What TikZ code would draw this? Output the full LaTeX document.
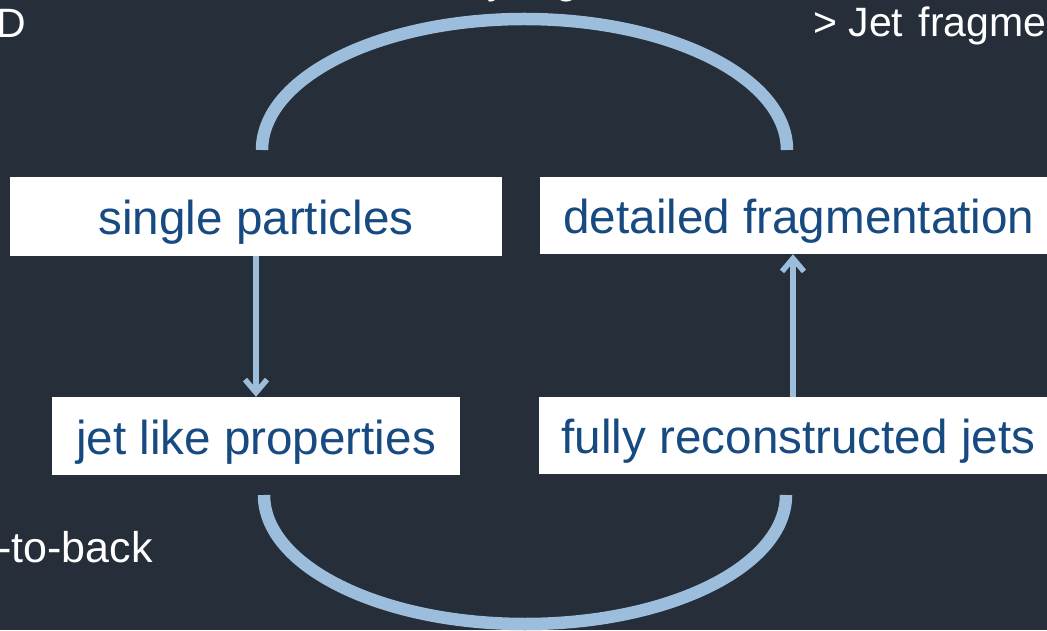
\documentclass[tikz,border=0pt]{standalone}
\usepackage{fontspec}
\setmainfont{Liberation Sans}
\usetikzlibrary{arrows.meta}
\definecolor{bgc}{RGB}{38,47,57}
\definecolor{arcc}{RGB}{157,189,221}
\definecolor{txtc}{RGB}{24,74,130}
\tikzset{
  box/.style={fill=white, draw=none, inner sep=0pt, text=txtc,
    font=\fontsize{47.6}{57}\selectfont, text height=36pt, text depth=0pt},
  note/.style={inner sep=0pt, text=white, font=\fontsize{41}{49}\selectfont},
  bigarc/.style={draw=arcc, line width=12.5pt},
  flow/.style={draw=arcc, line width=5.5pt,
    -{Straight Barb[length=13pt,width=22pt,line width=5.5pt]}},
  shade/.style={draw=black, opacity=0.3, shift={(1.5pt,-2.5pt)}}
}
\begin{document}
\begin{tikzpicture}[x=1pt,y=1pt]
\useasboundingbox (0,0) rectangle (1047,630);
\fill[bgc] (0,0) rectangle (1047,630);
\clip (0,0) rectangle (1047,630);

% partial white texts
\node[note, anchor=base west] (tD) at (-4,592) {D};
\node[note, anchor=base west] (tJ) at (813,593) {> Jet \hspace{4pt}fragmentation};
\node[note, anchor=base east, font=\fontsize{43}{51}\selectfont] (tB) at (153,68) {back-to-back};
\node[note, anchor=base] (ty) at (498,636) {y};
\node[note, anchor=base] (tg) at (567,636) {g};

% boxes
\node[box, minimum width=492pt, minimum height=79pt] (sp) at (256,413.5) {single particles};
\node[box, minimum width=518pt, minimum height=77pt] (df) at (799,414.5) {detailed fragmentation};
\node[box, minimum width=408pt, minimum height=78pt] (jl) at (256,194) {jet like properties};
\node[box, minimum width=519pt, minimum height=77pt] (fr) at (798.5,194.5) {fully reconstructed jets};

% arc end points
\coordinate (tl) at (262,480);
\coordinate (bl) at (264,135);

% shadows
\draw[bigarc, shade] (tl) arc[start angle=180, end angle=0, x radius=262.5, y radius=131];
\draw[bigarc, shade] (bl) arc[start angle=180, end angle=360, x radius=261, y radius=129];
\draw[flow, shade] (sp.south) -- (jl.north);
\draw[flow, shade] ([xshift=-5.5pt]fr.north) -- ([xshift=-6pt]df.south);

% arcs and arrows
\draw[bigarc] (tl) arc[start angle=180, end angle=0, x radius=262.5, y radius=131];
\draw[bigarc] (bl) arc[start angle=180, end angle=360, x radius=261, y radius=129];
\draw[flow] (sp.south) -- (jl.north);
\draw[flow] ([xshift=-5.5pt]fr.north) -- ([xshift=-6pt]df.south);
\end{tikzpicture}
\end{document}
